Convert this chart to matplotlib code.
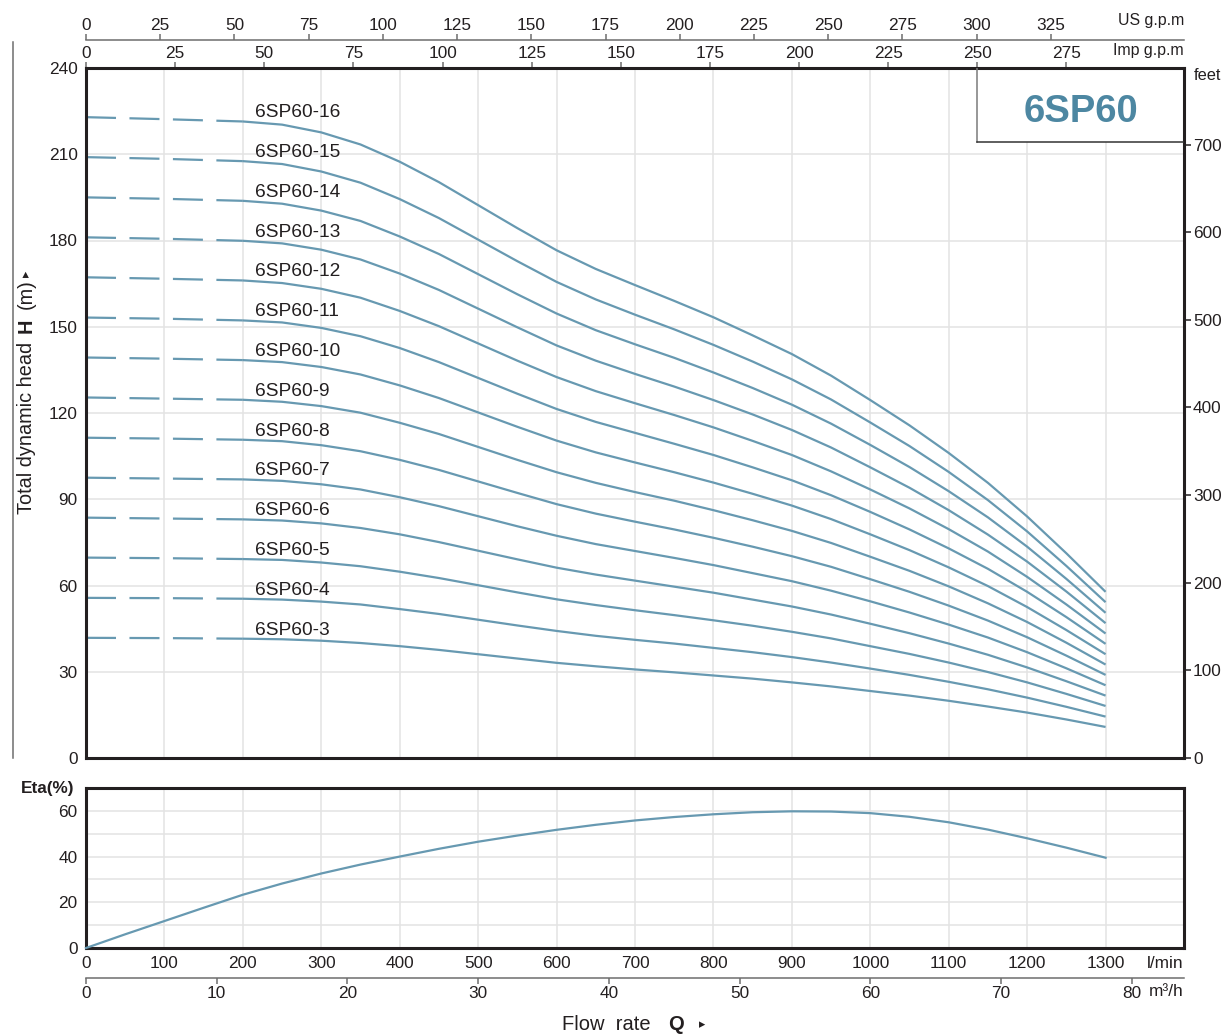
import matplotlib
matplotlib.use('Agg')
import matplotlib.pyplot as plt
from matplotlib.transforms import IdentityTransform
from matplotlib.lines import Line2D
from matplotlib.patches import Rectangle

plt.rcParams['font.family'] = ['Liberation Sans', 'DejaVu Sans']
plt.rcParams['lines.scale_dashes'] = False

# ---------------- data ----------------
flow = [0, 100, 200, 250, 300, 350, 400, 450, 500, 550, 600, 650, 700, 750, 800,
        850, 900, 950, 1000, 1050, 1100, 1150, 1200, 1250, 1300]  # l/min
models = ['6SP60-3', '6SP60-4', '6SP60-5', '6SP60-6', '6SP60-7', '6SP60-8', '6SP60-9',
          '6SP60-10', '6SP60-11', '6SP60-12', '6SP60-13', '6SP60-14', '6SP60-15', '6SP60-16']
head_3 = [41.8, 41.7, 41.5, 41.3, 40.8, 40.0, 38.9, 37.6, 36.1, 34.6, 33.1, 31.9, 30.8,
          29.8, 28.7, 27.6, 26.3, 24.9, 23.3, 21.7, 19.9, 17.9, 15.8, 13.4, 10.8]
head_4 = [55.7, 55.6, 55.4, 55.1, 54.4, 53.4, 51.8, 50.1, 48.1, 46.1, 44.2, 42.5, 41.1,
          39.8, 38.3, 36.8, 35.1, 33.2, 31.1, 28.9, 26.5, 23.9, 21.0, 17.8, 14.4]
head_5 = [69.7, 69.5, 69.2, 68.9, 68.0, 66.7, 64.8, 62.6, 60.1, 57.6, 55.2, 53.2, 51.4,
          49.7, 47.9, 46.0, 43.9, 41.6, 38.9, 36.2, 33.2, 29.9, 26.3, 22.3, 18.1]
head_6 = [83.6, 83.3, 83.0, 82.6, 81.6, 80.0, 77.8, 75.1, 72.1, 69.1, 66.2, 63.8, 61.7,
          59.6, 57.5, 55.1, 52.7, 49.9, 46.7, 43.4, 39.8, 35.9, 31.5, 26.7, 21.7]
head_7 = [97.5, 97.2, 96.9, 96.4, 95.2, 93.4, 90.7, 87.6, 84.1, 80.6, 77.3, 74.4, 72.0,
          69.6, 67.1, 64.3, 61.5, 58.2, 54.5, 50.6, 46.4, 41.9, 36.8, 31.2, 25.3]
head_8 = [111.4, 111.1, 110.7, 110.2, 108.8, 106.7, 103.7, 100.2, 96.2, 92.2, 88.3, 85.0, 82.2,
          79.5, 76.6, 73.5, 70.2, 66.5, 62.2, 57.8, 53.0, 47.8, 42.0, 35.6, 28.9]
head_9 = [125.4, 125.0, 124.6, 123.9, 122.4, 120.1, 116.6, 112.7, 108.2, 103.7, 99.4, 95.7, 92.5,
          89.5, 86.2, 82.7, 79.0, 74.8, 70.0, 65.1, 59.7, 53.8, 47.3, 40.1, 32.5]
head_10 = [139.3, 138.9, 138.4, 137.7, 136.0, 133.4, 129.6, 125.2, 120.2, 115.2, 110.4, 106.3, 102.8,
           99.4, 95.8, 91.9, 87.8, 83.1, 77.8, 72.3, 66.3, 59.8, 52.5, 44.5, 36.1]
head_11 = [153.2, 152.8, 152.2, 151.5, 149.6, 146.7, 142.6, 137.7, 132.2, 126.7, 121.4, 116.9, 113.1,
           109.3, 105.4, 101.1, 96.6, 91.4, 85.6, 79.5, 72.9, 65.8, 57.8, 49.0, 39.7]
head_12 = [167.2, 166.7, 166.1, 165.2, 163.2, 160.1, 155.5, 150.2, 144.2, 138.2, 132.5, 127.6, 123.4,
           119.3, 115.0, 110.3, 105.4, 99.7, 93.4, 86.8, 79.6, 71.8, 63.0, 53.4, 43.3]
head_13 = [181.1, 180.6, 179.9, 179.0, 176.8, 173.4, 168.5, 162.8, 156.3, 149.8, 143.5, 138.2, 133.6,
           129.2, 124.5, 119.5, 114.1, 108.0, 101.1, 94.0, 86.2, 77.7, 68.3, 57.9, 46.9]
head_14 = [195.0, 194.5, 193.8, 192.8, 190.4, 186.8, 181.4, 175.3, 168.3, 161.3, 154.6, 148.8, 143.9,
           139.2, 134.1, 128.7, 122.9, 116.3, 108.9, 101.2, 92.8, 83.7, 73.5, 62.3, 50.5]
head_15 = [209.0, 208.4, 207.6, 206.6, 204.0, 200.1, 194.4, 187.8, 180.3, 172.8, 165.6, 159.5, 154.2,
           149.1, 143.7, 137.9, 131.7, 124.7, 116.7, 108.5, 99.5, 89.7, 78.8, 66.8, 54.2]
head_16 = [222.9, 222.2, 221.4, 220.3, 217.6, 213.4, 207.4, 200.3, 192.3, 184.3, 176.6, 170.1, 164.5,
           159.0, 153.3, 147.0, 140.5, 133.0, 124.5, 115.7, 106.1, 95.7, 84.0, 71.2, 57.8]
heads = [head_3, head_4, head_5, head_6, head_7, head_8, head_9, head_10,
         head_11, head_12, head_13, head_14, head_15, head_16]

flow_eta = [0, 50, 100, 150, 200, 250, 300, 350, 400, 450, 500, 550, 600, 650, 700,
            750, 800, 850, 900, 950, 1000, 1050, 1100, 1150, 1200, 1250, 1300]
eta = [0, 6.0, 11.8, 17.6, 23.3, 28.2, 32.6, 36.5, 40.0, 43.4, 46.5, 49.2, 51.7, 53.9, 55.8,
       57.3, 58.5, 59.4, 59.8, 59.7, 59.0, 57.4, 55.0, 51.8, 48.0, 43.9, 39.5]

lmin_ticks = list(range(0, 1301, 100))
head_ticks = list(range(0, 241, 30))
feet_ticks = list(range(0, 701, 100))
us_ticks = list(range(0, 326, 25))
imp_ticks = list(range(0, 276, 25))
m3h_ticks = list(range(0, 81, 10))
eta_ticks = [0, 20, 40, 60]
title = '6SP60'

# ---------------- style ----------------
CURVE = '#6799b1'
FRAME = '#231f20'
GRID = '#e3e3e3'
TXT = '#231f20'
AXG = '#6e6e6e'
TICK_FS = 12.4
LW = 1.6

W, H = 1229, 1034
fig = plt.figure(figsize=(W / 100, H / 100), dpi=100)


def fx(px):
    return px / W


def fy(py):
    return 1 - py / H


ax = fig.add_axes([fx(86), fy(758), fx(1184) - fx(86), fy(68) - fy(758)])
ax2 = fig.add_axes([fx(86), fy(948), fx(1184) - fx(86), fy(788) - fy(948)])

for a in (ax, ax2):
    a.set_xlim(0, 1400)
    a.set_axisbelow(True)
    for s in a.spines.values():
        s.set_linewidth(2.2)
        s.set_color(FRAME)
    a.grid(True, which='both', color=GRID, linewidth=1.1)

# ---------------- main head chart ----------------
ax.set_ylim(0, 240)
ax.set_xticks(lmin_ticks)
ax.set_yticks(head_ticks)
ax.tick_params(axis='x', which='both', length=0, labelbottom=False)
ax.tick_params(axis='y', length=0, pad=6, labelsize=TICK_FS, labelcolor=TXT)

for name, h in zip(models, heads):
    ax.plot(flow[:3], h[:3], color=CURVE, lw=LW, dashes=(21.6, 9.7), dash_capstyle='butt')
    ax.plot(flow[2:], h[2:], color=CURVE, lw=LW, solid_capstyle='butt', solid_joinstyle='round')
    ax.text(216, h[2] + 3.0, name, fontsize=13.8, color=TXT, ha='left', va='center')

# title box
bx0 = 250 * 4.54609
by0 = 214.3
ax.add_patch(Rectangle((bx0, by0), 1400 - bx0, 240 - by0, facecolor='white',
                       edgecolor='none', zorder=2))
ax.plot([bx0, bx0], [by0, 240], color='#7a7a7a', lw=1.1, zorder=3)
ax.plot([bx0, 1400], [by0, by0], color='#333333', lw=1.1, zorder=3)
ax.text((bx0 + 1400) / 2, 224.6, title, fontsize=27.5, fontweight='bold',
        color='#4d87a2', ha='center', va='center', zorder=4)

# right feet axis
sec_ft = ax.secondary_yaxis('right', functions=(lambda m: m * 3.28084, lambda f: f / 3.28084))
sec_ft.set_yticks(feet_ticks)
sec_ft.spines['right'].set_visible(False)
sec_ft.tick_params(direction='out', length=5, width=1.1, color=FRAME, pad=1.5,
                   labelsize=TICK_FS, labelcolor=TXT)

# top Imp gpm axis (on the frame)
sec_imp = ax.secondary_xaxis('top', functions=(lambda q: q / 4.54609, lambda g: g * 4.54609))
sec_imp.set_xticks(imp_ticks)
sec_imp.spines['top'].set_visible(False)
sec_imp.tick_params(direction='out', length=4.3, width=1.1, color=AXG, pad=0.5,
                    labelsize=TICK_FS, labelcolor=TXT)

# top US gpm axis (separate line above)
sec_us = ax.secondary_xaxis(1.0406, functions=(lambda q: q / 3.785411784, lambda g: g * 3.785411784))
sec_us.set_xticks(us_ticks)
sec_us.spines['top'].set_color(AXG)
sec_us.spines['top'].set_linewidth(1.1)
sec_us.tick_params(direction='out', length=4.3, width=1.1, color=AXG, pad=0.5,
                   labelsize=TICK_FS, labelcolor=TXT)

# ---------------- efficiency chart ----------------
ax2.set_ylim(0, 70)
ax2.set_yticks(eta_ticks)
ax2.set_yticks([10, 30, 50, 70], minor=True)
ax2.set_xticks(lmin_ticks)
ax2.tick_params(axis='both', which='both', length=0)
ax2.tick_params(axis='y', pad=6, labelsize=TICK_FS, labelcolor=TXT)
ax2.tick_params(axis='x', pad=6, labelsize=TICK_FS, labelcolor=TXT)
ax2.plot(flow_eta, eta, color=CURVE, lw=LW, clip_on=False, zorder=3, solid_joinstyle='round')

sec_m3 = ax2.secondary_xaxis(-0.1875, functions=(lambda q: q * 0.06, lambda m: m / 0.06))
sec_m3.set_xticks(m3h_ticks)
sec_m3.spines['bottom'].set_color(AXG)
sec_m3.spines['bottom'].set_linewidth(1.1)
sec_m3.tick_params(direction='out', length=4.3, width=1.1, color=AXG, pad=1.5,
                   labelsize=TICK_FS, labelcolor=TXT)

# ---------------- free texts (pixel positions) ----------------
I = IdentityTransform()


def ptext(x, y, s, **kw):
    return fig.text(x, H - y, s, transform=I, color=TXT, **kw)


ptext(1184, 20, 'US g.p.m', fontsize=11.4, ha='right', va='center')
ptext(1184, 50, 'Imp g.p.m', fontsize=11.4, ha='right', va='center')
ptext(1194, 75, 'feet', fontsize=11.8, ha='left', va='center')
ptext(1184, 963, 'l/min', fontsize=12.4, ha='right', va='center')
ptext(1184, 991, 'm³/h', fontsize=12.4, ha='right', va='center')
ptext(74, 789, 'Eta(%)', fontsize=12.4, fontweight='bold', ha='right', va='center')

# x title
ptext(562, 1030, 'Flow  rate', fontsize=14.5, ha='left', va='baseline')
ptext(668, 1030, 'Q', fontsize=14.5, fontweight='bold', ha='left', va='baseline')
ptext(699, 1028, '▸', fontsize=9, ha='left', va='baseline', family='DejaVu Sans')

# y title (rotated)
ptext(32, 514, 'Total dynamic head', fontsize=14.3, rotation=90, rotation_mode='anchor',
      ha='left', va='baseline')
ptext(32, 333, 'H', fontsize=14.3, fontweight='bold', rotation=90, rotation_mode='anchor',
      ha='left', va='baseline')
ptext(32, 309, '(m)', fontsize=14.3, rotation=90, rotation_mode='anchor', ha='left', va='baseline')
ptext(30, 277, '▸', fontsize=9, rotation=90, rotation_mode='anchor', ha='left', va='baseline',
      family='DejaVu Sans')

# decorative left line
fig.add_artist(Line2D([fx(13), fx(13)], [fy(42), fy(758)], color='#6e6e6e', lw=1.1))

fig.savefig('out.png', dpi=100)
